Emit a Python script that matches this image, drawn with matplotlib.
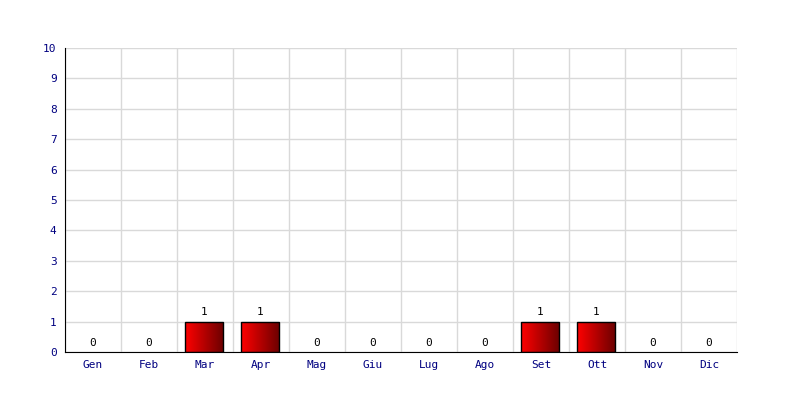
import numpy as np
import matplotlib
matplotlib.use("Agg")
import matplotlib.pyplot as plt
from matplotlib.colors import LinearSegmentedColormap

months = ["Gen", "Feb", "Mar", "Apr", "Mag", "Giu", "Lug", "Ago", "Set", "Ott", "Nov", "Dic"]
values = [0, 0, 1, 1, 0, 0, 0, 0, 1, 1, 0, 0]
yticks = list(range(0, 11))

fig = plt.figure(figsize=(8, 4), dpi=100)
ax = fig.add_axes([0.08125, 0.12, 0.84, 0.76])

x = np.arange(len(months))
width = 0.68
grad = np.linspace(0, 1, 256).reshape(1, -1)
cmap = LinearSegmentedColormap.from_list("redgrad", ["#ff0000", "#6a0000"])

bars = ax.bar(x - 0.015, values, width=width, color="none", edgecolor="black", linewidth=1, zorder=3)
for b in bars:
    if b.get_height() <= 0:
        b.set_linewidth(0)
        continue
    x0, y0 = b.get_x(), b.get_y()
    im = ax.imshow(grad, cmap=cmap, aspect="auto", zorder=2,
                   extent=[x0, x0 + b.get_width(), y0, y0 + b.get_height()])
    im.set_clip_path(b)

# value labels above each month
for xi, v in zip(x, values):
    ax.annotate(str(v), (xi - 0.015, v), xytext=(0, 3), textcoords="offset points",
                ha="center", va="bottom", fontsize=8, family="DejaVu Sans Mono", color="black")

ax.set_xlim(-0.5, len(months) - 0.5)
ax.set_ylim(0, 10)
ax.set_xticks(x)
ax.set_xticklabels(months)
ax.set_yticks(yticks)
ax.set_xticks(np.arange(-0.5, len(months)), minor=True)
ax.tick_params(which="both", length=0)
ax.tick_params(axis="both", labelsize=8, labelcolor="#000080", pad=6)
for lab in ax.get_xticklabels() + ax.get_yticklabels():
    lab.set_family("DejaVu Sans Mono")

ax.grid(True, which="major", axis="y", color="#d9d9d9", linewidth=1, zorder=0)
ax.grid(True, which="minor", axis="x", color="#d9d9d9", linewidth=1, zorder=0)
ax.set_axisbelow(True)

ax.spines["top"].set_visible(False)
ax.spines["right"].set_visible(False)
ax.spines["left"].set_color("black")
ax.spines["bottom"].set_color("black")

fig.savefig("out.png", dpi=100, facecolor="white")
